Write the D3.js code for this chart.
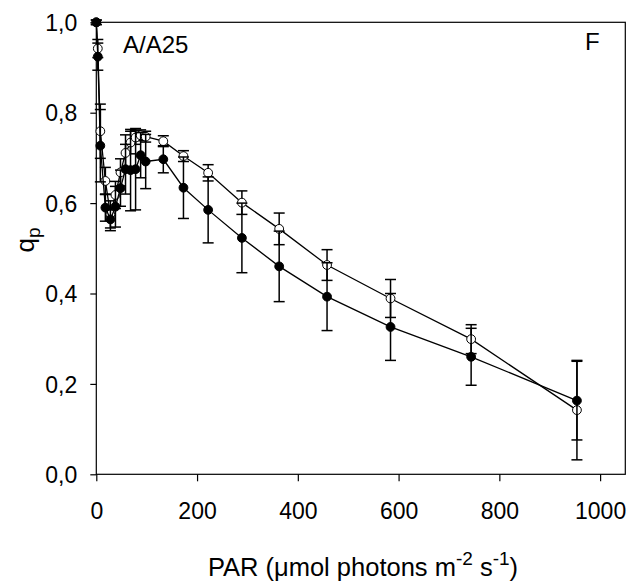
<!DOCTYPE html>
<html>
<head>
<meta charset="utf-8">
<script src="https://cdn.jsdelivr.net/npm/d3@7"></script>
<style>
  body { margin: 0; background: #fff; }
  svg { display: block; }
  text { font-family: "Liberation Sans", Arial, sans-serif; fill: #000; }
</style>
</head>
<body>
<svg id="chart" width="642" height="584"></svg>
<script>
'use strict';

// PAR steps of the light curve
const par = [0, 3, 8, 18, 28, 38, 48, 58, 68, 78, 88, 98, 133, 173, 222, 289, 363, 458, 584, 744, 954];

// filled symbols
const qpFilled = [1.0, 0.924, 0.727, 0.590, 0.564, 0.592, 0.633, 0.675, 0.673, 0.675, 0.706, 0.692,
  0.697, 0.634, 0.585, 0.523, 0.460, 0.393, 0.326, 0.260, 0.163];
const errFilled = [0.005, 0.03, 0.08, 0.03, 0.025, 0.045, 0.04, 0.055, 0.09, 0.09, 0.05, 0.06,
  0.03, 0.068, 0.073, 0.077, 0.078, 0.075, 0.074, 0.063, 0.087];

// open symbols
const qpOpen = [1.0, 0.942, 0.759, 0.649, 0.575, 0.618, 0.668, 0.711, 0.734, 0.745, 0.750, 0.747,
  0.737, 0.704, 0.667, 0.601, 0.543, 0.463, 0.389, 0.299, 0.142];
const errOpen = [0.005, 0.02, 0.06, 0.03, 0.03, 0.03, 0.03, 0.04, 0.025, 0.015, 0.012, 0.012,
  0.012, 0.012, 0.018, 0.026, 0.035, 0.034, 0.042, 0.032, 0.11];

const xTicks = [0, 200, 400, 600, 800, 1000];
const yTicks = [0, 0.2, 0.4, 0.6, 0.8, 1.0];

const X0 = 96.3, X1 = 625.3, Y0 = 474.3, Y1 = 22.3;
const R = 4.4;
const CAP = 5.5;

let svg = d3.select('#chart');

let x = d3.scaleLinear().domain([0, 1050]).range([X0, X1]);
let y = d3.scaleLinear().domain([0, 1]).range([Y0, Y1]);

let fmt = function(v) { return d3.format('.1f')(v).replace('.', ','); };

// frame
svg.append('rect')
  .attr('x', X0).attr('y', Y1)
  .attr('width', X1 - X0).attr('height', Y0 - Y1)
  .attr('fill', 'none').attr('stroke', '#000').attr('stroke-width', 1.2);

let xAxis = svg.append('g')
  .attr('transform', 'translate(0,' + Y0 + ')')
  .call(d3.axisBottom(x).tickValues(xTicks).tickSize(7).tickPadding(21).tickFormat(d3.format('d')));

let yAxis = svg.append('g')
  .attr('transform', 'translate(' + X0 + ',0)')
  .call(d3.axisLeft(y).tickValues(yTicks).tickSize(6).tickPadding(13).tickFormat(fmt));

[xAxis, yAxis].forEach(function(ax) {
  ax.select('.domain').remove();
  ax.selectAll('line').attr('stroke', '#000').attr('stroke-width', 1.2);
  ax.selectAll('text')
    .attr('font-family', '"Liberation Sans", Arial, sans-serif')
    .attr('font-size', 23)
    .attr('fill', '#000');
});
yAxis.selectAll('text').attr('dy', '0.36em');

function drawSeries(vals, errs, filled) {
  let pts = par.map(function(p, i) { return { p: p, v: vals[i], e: errs[i] }; });
  let g = svg.append('g');

  g.append('path')
    .datum(pts)
    .attr('fill', 'none')
    .attr('stroke', '#000')
    .attr('stroke-width', 1.3)
    .attr('d', d3.line()
      .x(function(d) { return x(d.p); })
      .y(function(d) { return y(d.v); }));

  let bars = g.selectAll('.err')
    .data(pts)
    .enter().append('g')
      .attr('stroke', '#000')
      .attr('stroke-width', 1.5);

  bars.append('line')
    .attr('x1', function(d) { return x(d.p); })
    .attr('x2', function(d) { return x(d.p); })
    .attr('y1', function(d) { return y(d.v - d.e); })
    .attr('y2', function(d) { return y(d.v + d.e); });
  bars.append('line')
    .attr('x1', function(d) { return x(d.p) - CAP; })
    .attr('x2', function(d) { return x(d.p) + CAP; })
    .attr('y1', function(d) { return y(d.v + d.e); })
    .attr('y2', function(d) { return y(d.v + d.e); });
  bars.append('line')
    .attr('x1', function(d) { return x(d.p) - CAP; })
    .attr('x2', function(d) { return x(d.p) + CAP; })
    .attr('y1', function(d) { return y(d.v - d.e); })
    .attr('y2', function(d) { return y(d.v - d.e); });

  g.selectAll('circle')
    .data(pts)
    .enter().append('circle')
      .attr('cx', function(d) { return x(d.p); })
      .attr('cy', function(d) { return y(d.v); })
      .attr('r', R)
      .attr('fill', filled ? '#000' : '#fff')
      .attr('stroke', '#000')
      .attr('stroke-width', 1);
}

drawSeries(qpOpen, errOpen, false);
drawSeries(qpFilled, errFilled, true);

// panel texts
svg.append('text')
  .attr('x', 123).attr('y', 53)
  .attr('font-size', 24)
  .text('A/A25');

svg.append('text')
  .attr('x', 585).attr('y', 50)
  .attr('font-size', 24)
  .text('F');

// y label: q with subscript p
let yl = svg.append('text')
  .attr('transform', 'translate(34,240) rotate(-90)')
  .attr('text-anchor', 'middle')
  .attr('font-size', 26);
yl.append('tspan').text('q');
yl.append('tspan').attr('font-size', 19).attr('dy', 6).text('p');

// x label with superscripts
let xl = svg.append('text')
  .attr('x', 363).attr('y', 576)
  .attr('text-anchor', 'middle')
  .attr('font-size', 25.5);
xl.append('tspan').text('PAR (\u03bcmol photons m');
xl.append('tspan').attr('font-size', 19).attr('dy', -11).text('-2');
xl.append('tspan').attr('dy', 11).text(' s');
xl.append('tspan').attr('font-size', 19).attr('dy', -11).text('-1');
xl.append('tspan').attr('dy', 11).text(')');
</script>
</body>
</html>
